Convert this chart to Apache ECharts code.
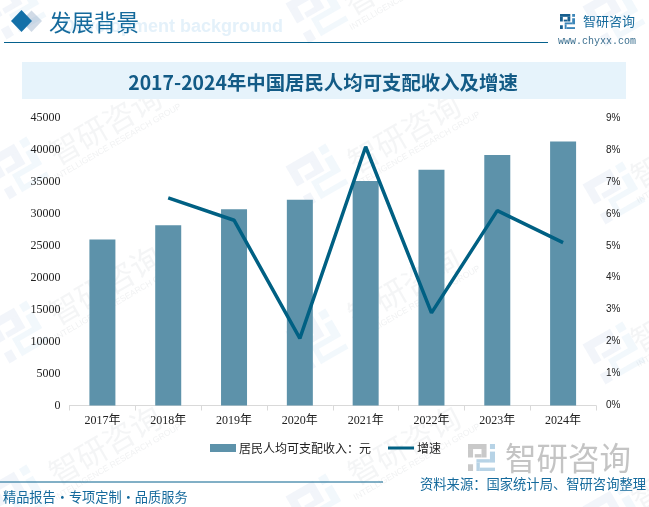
<!DOCTYPE html>
<html lang="zh">
<head>
    <meta charset="UTF-8">
    <title>发展背景</title>
    <style>
        body { margin: 0; background-color: #fff; }
        #chart { width: 649px; height: 507px; }
    </style>
</head>
<body>
    <div id="chart"></div>
    <script src="https://cdn.jsdelivr.net/npm/echarts@6/dist/echarts.min.js"></script>
    <script>
        const years = ['2017年', '2018年', '2019年', '2020年', '2021年', '2022年', '2023年', '2024年'];
        const income = [25974, 28228, 30733, 32189, 35128, 36883, 39218, 41314];
        const growth = [null, 6.5, 5.8, 2.1, 8.1, 2.9, 6.1, 5.1];
        const incomeName = '居民人均可支配收入：元';
        const growthName = '增速';
        const titleText = '2017-2024年中国居民人均可支配收入及增速';

        const sans = '"Liberation Sans", "Noto Sans CJK SC", sans-serif';
        const serif = '"Liberation Serif", "Noto Sans CJK SC", serif';
        const cjk = '"Noto Sans CJK SC", sans-serif';
        const blue = '#05618d';
        const lineBlue = '#006083';

        // 标识的两部分，16x16 的格子
        const logoLeft = [[0, 0, 11, 3], [8, 3, 3, 5], [0, 3, 3, 5], [4, 6, 4, 2], [0, 12, 3, 4]];
        const logoRight = [[13, 0, 3, 3], [13, 4.5, 3, 6.5], [5, 9, 8, 2], [5, 11, 2, 5], [7, 14, 9, 2]];

        function logo(x, y, size, rotation, colorA, colorB, z) {
            const k = size / 16;
            const part = (rects, fill) => rects.map(r => ({
                type: 'rect',
                shape: { x: (r[0] - 8) * k, y: (r[1] - 8) * k, width: r[2] * k, height: r[3] * k },
                style: { fill },
            }));
            return {
                type: 'group', x, y, rotation, silent: true, z,
                children: part(logoLeft, colorA).concat(part(logoRight, colorB)),
            };
        }

        // 水印
        const markCentres = [[105, 125], [105, 285], [105, 445], [404, 133], [404, 287], [404, 445], [400, -25], [687, 148], [687, 312], [687, 470]];
        const logoCentres = [[18, 168], [18, 332], [18, 496], [15, 8], [317, 175], [317, 340], [317, 505], [317, 12], [614, 193], [614, 353], [614, 515], [614, 15]];
        const watermark = [];
        markCentres.forEach(([x, y]) => {
            watermark.push({
                type: 'text', x, y, rotation: Math.PI / 6, silent: true, z: 0,
                style: { text: '智研咨询', font: '31px ' + cjk, fill: 'rgba(120,130,140,0.08)', align: 'center', verticalAlign: 'middle' },
            });
            watermark.push({
                type: 'text', x: x + 13, y: y + 17, rotation: Math.PI / 6, silent: true, z: 0,
                style: { text: 'INTELLIGENCE RESEARCH GROUP', font: '8.5px ' + sans, fill: 'rgba(120,130,140,0.11)', align: 'center', verticalAlign: 'middle' },
            });
        });
        logoCentres.forEach(([x, y]) => {
            watermark.push(logo(x, y, 46, Math.PI / 6, 'rgba(70,120,180,0.07)', 'rgba(70,150,210,0.07)', 0));
        });

        // 页眉页脚
        const frame = [
            { type: 'rect', shape: { x: 22, y: 62, width: 604, height: 37 }, style: { fill: '#e6f3fb' }, z: 1 },
            { type: 'text', x: 323, y: 83, z: 2, style: { text: titleText, font: 'bold 19.4px ' + cjk, fill: '#135b86', align: 'center', verticalAlign: 'middle' } },
            { type: 'polygon', shape: { points: [[21, 21], [31.5, 10.5], [42, 21], [31.5, 32]] }, style: { fill: 'rgba(90,125,170,0.28)' }, z: 1 },
            { type: 'polygon', shape: { points: [[11, 21], [21.5, 10], [32, 21], [21.5, 32]] }, style: { fill: '#1470a8' }, z: 2 },
            { type: 'text', x: 283, y: 27, z: 1, style: { text: 'Development background', font: 'bold 18px ' + sans, fill: '#e4f1fa', align: 'right', verticalAlign: 'middle' } },
            { type: 'text', x: 49, y: 22, z: 2, style: { text: '发展背景', font: '22.5px ' + cjk, fill: '#156a9c', verticalAlign: 'middle' } },
            { type: 'line', shape: { x1: 4, y1: 42.5, x2: 548, y2: 42.5 }, style: { stroke: blue, lineWidth: 1 }, z: 2 },
            logo(567.5, 21.5, 15, 0, '#175f8f', '#3c86b8', 2),
            { type: 'text', x: 583, y: 21, z: 2, style: { text: '智研咨询', font: '13px ' + cjk, fill: '#156a9c', verticalAlign: 'middle' } },
            { type: 'text', x: 558, y: 41, z: 2, style: { text: 'www.chyxx.com', font: '10px "Liberation Mono", monospace', fill: '#3b6f8f', verticalAlign: 'middle' } },
            { type: 'line', shape: { x1: 0, y1: 482, x2: 383, y2: 482 }, style: { stroke: blue, lineWidth: 1 }, z: 2 },
            { type: 'text', x: 3, y: 497, z: 2, style: { text: '精品报告·专项定制·品质服务', font: '13.2px ' + cjk, fill: '#156a9c', verticalAlign: 'middle' } },
            // 右下角标识
            logo(481.5, 457.5, 27, 0, '#c9c9c9', '#b7d3e6', 2),
            { type: 'text', x: 505, y: 458, z: 2, style: { text: '智研咨询', font: '31.5px ' + cjk, fill: '#c4c4c4', verticalAlign: 'middle' } },
            { type: 'text', x: 420, y: 483.5, z: 3, style: { text: '资料来源：国家统计局、智研咨询整理', font: '13.3px ' + cjk, fill: '#156a9c', verticalAlign: 'middle' } },
        ];

        const chart = echarts.init(document.getElementById('chart'));

        const option = {
            animation: false,
            backgroundColor: '#fff',
            graphic: { elements: watermark.concat(frame) },
            grid: { left: 69.5, right: 53, top: 118, bottom: 101.5 },
            legend: {
                left: 210,
                top: 442,
                padding: 0,
                itemGap: 17,
                itemWidth: 26,
                itemHeight: 8,
                textStyle: { fontFamily: cjk, fontSize: 12, color: '#222', padding: [0, 0, 0, -2] },
                data: [
                    { name: incomeName, icon: 'rect' },
                    { name: growthName, icon: 'path://M0 0L0 0M0 2.5H26V5.5H0ZM0 8L0 8' },
                ],
            },
            xAxis: {
                type: 'category',
                data: years,
                axisLabel: { fontFamily: serif, fontSize: 12, color: '#222', margin: 9, interval: 0 },
                axisTick: { show: true, length: 5, lineStyle: { color: '#d9d9d9' } },
                axisLine: { lineStyle: { color: '#d9d9d9' } },
            },
            yAxis: [
                {
                    type: 'value',
                    min: 0,
                    max: 45000,
                    interval: 5000,
                    axisLabel: { fontFamily: serif, fontSize: 12, color: '#222', margin: 9, padding: [2, 0, 0, 0], formatter: v => String(v) },
                    axisLine: { show: false },
                    axisTick: { show: false },
                    splitLine: { show: false },
                },
                {
                    type: 'value',
                    min: 0,
                    max: 9,
                    interval: 1,
                    axisLabel: { fontFamily: sans, fontSize: 10, color: '#222', margin: 10, padding: [4, 0, 0, 0], formatter: '{value}%' },
                    axisLine: { show: false },
                    axisTick: { show: false },
                    splitLine: { show: false },
                },
            ],
            series: [
                {
                    name: incomeName,
                    type: 'bar',
                    data: income,
                    barWidth: 26,
                    itemStyle: { color: '#5d92aa' },
                    z: 3,
                },
                {
                    name: growthName,
                    type: 'line',
                    yAxisIndex: 1,
                    data: growth,
                    symbol: 'none',
                    lineStyle: { color: lineBlue, width: 3.5 },
                    itemStyle: { color: lineBlue },
                    z: 4,
                },
            ],
        };

        chart.setOption(option);
    </script>
</body>
</html>
